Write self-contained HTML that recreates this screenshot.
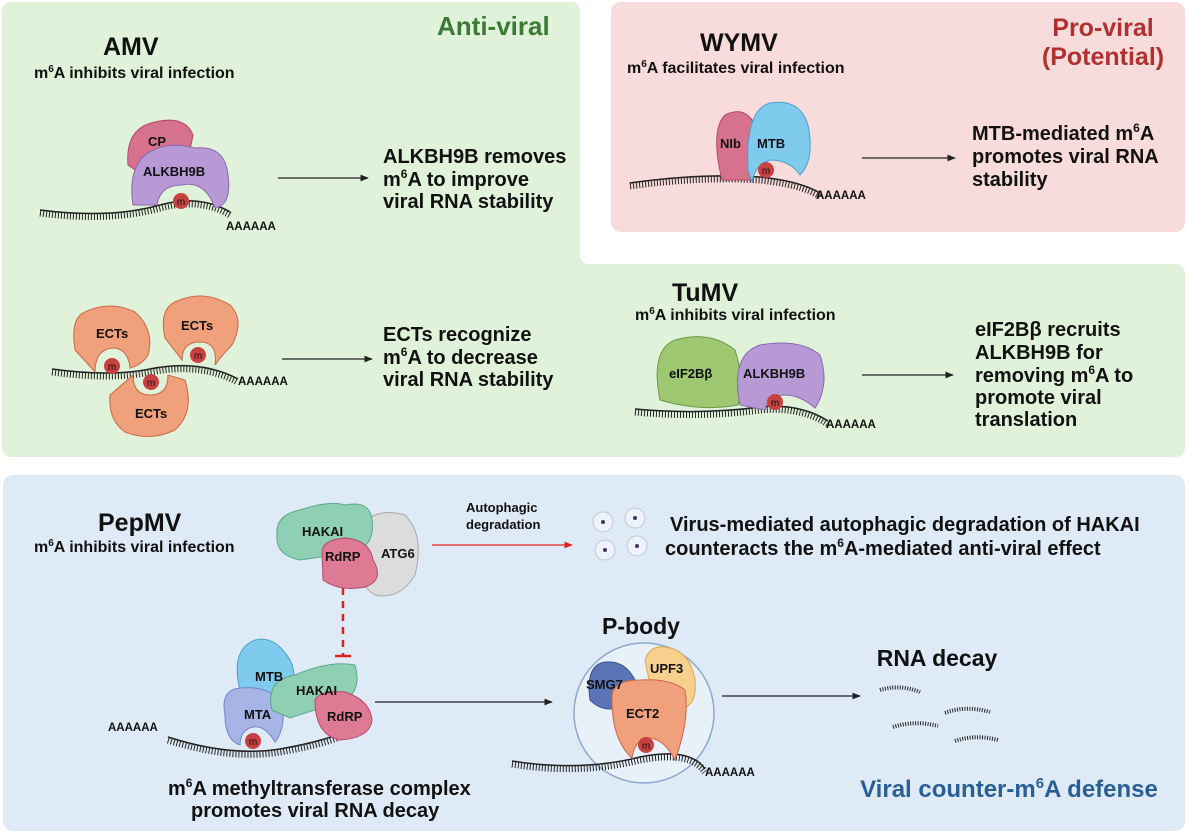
<!DOCTYPE html>
<html><head><meta charset="utf-8"><style>
body{margin:0;background:#fff}
svg{display:block}
text{font-family:"Liberation Sans",Arial,sans-serif;font-weight:bold;fill:#111}
</style></head><body>
<svg width="1188" height="835" viewBox="0 0 1188 835" xmlns="http://www.w3.org/2000/svg">
<defs>
<marker id="ar" viewBox="0 0 10 10" refX="9" refY="5" markerWidth="7" markerHeight="7" orient="auto"><path d="M0,1L10,5L0,9z" fill="#222"/></marker>
<marker id="arr" viewBox="0 0 10 10" refX="9" refY="5" markerWidth="7" markerHeight="7" orient="auto"><path d="M0,1L10,5L0,9z" fill="#e0201e"/></marker>
</defs>
<path d="M12,2 H570 Q580,2 580,12 V254 Q580,264 590,264 H1175 Q1185,264 1185,274 V447 Q1185,457 1175,457 H12 Q2,457 2,447 V12 Q2,2 12,2Z" fill="#e0f2d9"/>
<rect x="611" y="2" width="574" height="230" rx="10" fill="#f8dcdc"/>
<rect x="3" y="475" width="1182" height="356" rx="10" fill="#dfeaf7"/>

<text x="103" y="55" font-size="25">AMV</text>
<text x="34" y="78" font-size="16">m<tspan font-size="10" dy="-6">6</tspan><tspan dy="6">A inhibits viral infection</tspan></text>
<text x="437" y="35" font-size="26" style="fill:#3d7a35">Anti-viral</text>
<text x="700" y="51" font-size="25">WYMV</text>
<text x="627" y="73" font-size="16">m<tspan font-size="10" dy="-6">6</tspan><tspan dy="6">A facilitates viral infection</tspan></text>
<text x="1103" y="36" font-size="25" text-anchor="middle" style="fill:#b23030">Pro-viral</text>
<text x="1103" y="65" font-size="25" text-anchor="middle" style="fill:#b23030">(Potential)</text>
<text x="672" y="301" font-size="25">TuMV</text>
<text x="635" y="320" font-size="16">m<tspan font-size="10" dy="-6">6</tspan><tspan dy="6">A inhibits viral infection</tspan></text>
<text x="98" y="531" font-size="25">PepMV</text>
<text x="34" y="552" font-size="16">m<tspan font-size="10" dy="-6">6</tspan><tspan dy="6">A inhibits viral infection</tspan></text>

<text x="383" y="163" font-size="20">ALKBH9B removes</text>
<text x="383" y="186" font-size="20">m<tspan font-size="12" dy="-8">6</tspan><tspan dy="8">A to improve</tspan></text>
<text x="383" y="208" font-size="20">viral RNA stability</text>
<text x="383" y="341" font-size="20">ECTs recognize</text>
<text x="383" y="364" font-size="20">m<tspan font-size="12" dy="-8">6</tspan><tspan dy="8">A to decrease</tspan></text>
<text x="383" y="386" font-size="20">viral RNA stability</text>
<text x="972" y="140" font-size="20">MTB-mediated m<tspan font-size="12" dy="-8">6</tspan><tspan dy="8">A</tspan></text>
<text x="972" y="163" font-size="20">promotes viral  RNA</text>
<text x="972" y="186" font-size="20">stability</text>
<text x="975" y="336" font-size="20">eIF2Bβ recruits</text>
<text x="975" y="359" font-size="20">ALKBH9B for</text>
<text x="975" y="382" font-size="20">removing m<tspan font-size="12" dy="-8">6</tspan><tspan dy="8">A to</tspan></text>
<text x="975" y="404" font-size="20">promote viral</text>
<text x="975" y="426" font-size="20">translation</text>
<text x="670" y="531" font-size="20">Virus-mediated autophagic degradation of HAKAI</text>
<text x="665" y="555" font-size="20">counteracts the m<tspan font-size="12" dy="-8">6</tspan><tspan dy="8">A-mediated anti-viral effect</tspan></text>
<text x="466" y="512" font-size="13">Autophagic</text>
<text x="466" y="529" font-size="13">degradation</text>
<text x="168" y="795" font-size="20">m<tspan font-size="12" dy="-8">6</tspan><tspan dy="8">A methyltransferase complex</tspan></text>
<text x="191" y="817" font-size="20">promotes viral RNA decay</text>
<text x="641" y="634" font-size="23" text-anchor="middle">P-body</text>
<text x="937" y="666" font-size="23" text-anchor="middle">RNA decay</text>
<text x="1009" y="797" font-size="24" text-anchor="middle" style="fill:#2a5f96">Viral counter-m<tspan font-size="15" dy="-9">6</tspan><tspan dy="9">A defense</tspan></text>

<g stroke="#222" stroke-width="1.2" fill="none">
<line x1="278" y1="178" x2="368" y2="178" marker-end="url(#ar)"/>
<line x1="282" y1="359" x2="372" y2="359" marker-end="url(#ar)"/>
<line x1="862" y1="158" x2="955" y2="158" marker-end="url(#ar)"/>
<line x1="862" y1="375" x2="953" y2="375" marker-end="url(#ar)"/>
<line x1="375" y1="702" x2="552" y2="702" marker-end="url(#ar)"/>
<line x1="722" y1="696" x2="860" y2="696" marker-end="url(#ar)"/>
</g>
<line x1="432" y1="545" x2="572" y2="545" stroke="#e0201e" stroke-width="1.2" marker-end="url(#arr)"/>
<line x1="343" y1="588" x2="343" y2="655" stroke="#e0201e" stroke-width="2.5" stroke-dasharray="7,6"/>
<line x1="335" y1="656" x2="351" y2="656" stroke="#e0201e" stroke-width="2.5"/>

<circle cx="644" cy="713" r="70" fill="#e8f0fa" stroke="#8ea6d0" stroke-width="1.5"/>

<g fill="none" stroke="#222">
<path d="M40,213 Q110,222 160,208 Q200,197 230,215" stroke-width="7" stroke-dasharray="1,2"/><path d="M40,210 Q110,219 160,205 Q200,194 230,212" stroke-width="1.5"/>
<path d="M52,372 Q110,380 150,372 Q200,362 238,382" stroke-width="7" stroke-dasharray="1,2"/><path d="M52,369 Q110,377 150,369 Q200,359 238,379" stroke-width="1.5"/>
<path d="M630,186 Q700,176 760,180 Q800,184 820,196" stroke-width="7" stroke-dasharray="1,2"/><path d="M630,183 Q700,173 760,177 Q800,181 820,193" stroke-width="1.5"/>
<path d="M635,412 Q700,418 760,410 Q800,406 828,424" stroke-width="7" stroke-dasharray="1,2"/><path d="M635,409 Q700,415 760,407 Q800,403 828,421" stroke-width="1.5"/>
<path d="M168,740 Q230,760 280,752 Q320,745 342,736" stroke-width="7" stroke-dasharray="1,2"/><path d="M168,737 Q230,757 280,749 Q320,742 342,733" stroke-width="1.5"/>
<path d="M512,764 Q580,775 640,760 Q690,750 705,772" stroke-width="7" stroke-dasharray="1,2"/><path d="M512,761 Q580,772 640,757 Q690,747 705,769" stroke-width="1.5"/>
<g stroke-width="4" stroke-dasharray="1,1.5">
<path d="M880,690 Q900,684 920,692"/><path d="M945,713 Q965,705 990,712"/><path d="M893,727 Q915,720 938,726"/><path d="M955,741 Q975,734 998,740"/>
</g>
</g>
<text x="226" y="230" font-size="11.5">AAAAAA</text>
<text x="238" y="385" font-size="11.5">AAAAAA</text>
<text x="816" y="199" font-size="11.5">AAAAAA</text>
<text x="826" y="428" font-size="11.5">AAAAAA</text>
<text x="108" y="731" font-size="11.5">AAAAAA</text>
<text x="705" y="776" font-size="11.5">AAAAAA</text>

<path d="M128,165 Q125,128 155,122 Q185,115 193,135 L190,150 L135,170Z" fill="#d7728e" stroke="#b04a68"/>
<path d="M133,205 Q128,170 145,155 Q165,140 195,148 Q225,145 228,175 Q232,205 215,208 Q205,180 182,185 Q160,185 157,205Z" fill="#b79ad5" stroke="#8a66b0"/>
<text x="148" y="146" font-size="13">CP</text>
<text x="143" y="176" font-size="13">ALKBH9B</text>
<circle cx="181" cy="201" r="8" fill="#c94040"/><text x="181" y="205" font-size="10" text-anchor="middle" style="font-weight:normal">m</text>

<g fill="#f0a07a" stroke="#c8694a">
<path d="M75,350 Q70,318 85,312 Q110,300 135,312 Q155,330 148,355 Q142,365 130,368 Q128,348 112,348 Q95,350 95,372Z"/>
<path d="M165,338 Q158,306 180,300 Q205,290 230,305 Q245,320 232,345 Q222,355 215,365 Q218,342 200,342 Q182,342 182,360Z"/>
<path d="M110,395 Q108,420 125,432 Q150,442 175,430 Q195,412 185,380 L168,375 Q168,395 150,395 Q133,395 133,375Z"/>
</g>
<text x="96" y="338" font-size="13">ECTs</text>
<text x="181" y="330" font-size="13">ECTs</text>
<text x="135" y="418" font-size="13">ECTs</text>
<circle cx="112" cy="366" r="8" fill="#c94040"/><text x="112" y="370" font-size="10" text-anchor="middle" style="font-weight:normal">m</text>
<circle cx="198" cy="355" r="8" fill="#c94040"/><text x="198" y="359" font-size="10" text-anchor="middle" style="font-weight:normal">m</text>
<circle cx="151" cy="382" r="8" fill="#c94040"/><text x="151" y="386" font-size="10" text-anchor="middle" style="font-weight:normal">m</text>

<path d="M722,180 Q710,130 725,115 Q745,105 755,125 L752,180Z" fill="#d7728e" stroke="#b04a68"/>
<path d="M748,170 Q745,110 770,103 Q800,98 808,125 Q815,160 800,175 Q790,160 770,160 Q755,165 752,182Z" fill="#7fcbee" stroke="#4aa0cc"/>
<text x="720" y="148" font-size="13">NIb</text>
<text x="757" y="148" font-size="13">MTB</text>
<circle cx="766" cy="170" r="8" fill="#c94040"/><text x="766" y="174" font-size="10" text-anchor="middle" style="font-weight:normal">m</text>

<path d="M660,400 Q650,350 675,340 Q710,330 735,350 Q745,380 738,405 Q700,412 660,400Z" fill="#9dc770" stroke="#6c9a45"/>
<path d="M740,405 Q730,355 760,345 Q800,338 820,355 Q830,385 815,408 Q800,395 785,395 Q768,395 765,410Z" fill="#b79ad5" stroke="#8a66b0"/>
<text x="669" y="378" font-size="13">eIF2Bβ</text>
<text x="743" y="378" font-size="13">ALKBH9B</text>
<circle cx="775" cy="402" r="8" fill="#c94040"/><text x="775" y="406" font-size="10" text-anchor="middle" style="font-weight:normal">m</text>

<path d="M355,535 Q370,505 405,515 Q425,535 415,575 Q400,600 375,595 Q350,580 355,535Z" fill="#dcdcdc" stroke="#aaa"/>
<path d="M277,535 Q275,515 300,510 Q330,500 345,505 Q370,500 372,520 Q375,545 355,552 L300,560 Q275,555 277,535Z" fill="#8fcfb4" stroke="#5aa88a"/>
<path d="M322,552 Q322,540 345,538 Q370,540 373,560 Q385,580 365,587 Q340,592 323,580Z" fill="#df7a94" stroke="#b04a68"/>
<text x="302" y="536" font-size="13">HAKAI</text>
<text x="325" y="561" font-size="13">RdRP</text>
<text x="381" y="558" font-size="13">ATG6</text>

<path d="M240,690 Q230,650 255,640 Q275,635 290,660 Q300,680 285,695 Z" fill="#7fcbee" stroke="#4aa0cc"/>
<path d="M225,715 Q220,690 240,688 Q270,685 283,705 Q285,730 275,742 Q265,725 253,727 Q240,730 240,745 Q225,740 225,715Z" fill="#a6b5e5" stroke="#7584c4"/>
<path d="M272,710 Q265,680 295,675 Q330,660 355,665 Q362,690 345,700 L290,718Z" fill="#8fcfb4" stroke="#5aa88a"/>
<path d="M315,700 Q320,690 345,692 Q370,700 372,720 Q370,738 340,740 Q315,735 315,700Z" fill="#df7a94" stroke="#b04a68"/>
<text x="255" y="681" font-size="13">MTB</text>
<text x="296" y="695" font-size="13">HAKAI</text>
<text x="244" y="719" font-size="13">MTA</text>
<text x="327" y="721" font-size="13">RdRP</text>
<circle cx="253" cy="741" r="8" fill="#c94040"/><text x="253" y="745" font-size="10" text-anchor="middle" style="font-weight:normal">m</text>

<path d="M590,700 Q585,665 605,662 Q625,660 635,680 L625,705 Q605,715 590,700Z" fill="#5b74b8" stroke="#3e568f"/>
<path d="M645,660 Q650,645 665,647 Q690,650 695,680 Q698,705 680,710 L650,685Z" fill="#f6d08c" stroke="#d9a858"/>
<path d="M612,700 Q610,680 640,680 Q670,678 685,690 Q690,720 675,760 Q665,740 650,738 Q635,738 632,758 Q612,740 612,700Z" fill="#f0a07a" stroke="#c8694a"/>
<text x="586" y="689" font-size="13">SMG7</text>
<text x="650" y="673" font-size="13">UPF3</text>
<text x="626" y="718" font-size="13">ECT2</text>
<circle cx="646" cy="745" r="8" fill="#c94040"/><text x="646" y="749" font-size="10" text-anchor="middle" style="font-weight:normal">m</text>

<g fill="#eef2fa" stroke="#c0c6d4">
<circle cx="603" cy="522" r="10"/><circle cx="635" cy="518" r="10"/><circle cx="605" cy="550" r="10"/><circle cx="637" cy="546" r="10"/>
</g>
<g fill="#443366"><circle cx="603" cy="522" r="2"/><circle cx="635" cy="518" r="2"/><circle cx="605" cy="550" r="2"/><circle cx="637" cy="546" r="2"/></g>
</svg>
</body></html>
